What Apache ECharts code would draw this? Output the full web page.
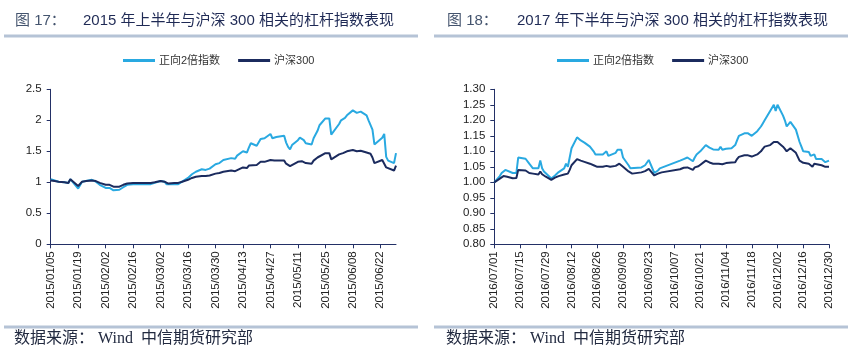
<!DOCTYPE html>
<html>
<head>
<meta charset="utf-8">
<script src="https://cdn.jsdelivr.net/npm/echarts@6/dist/echarts.min.js"></script>
<style>
html,body{margin:0;padding:0;background:#fff;}
#c{width:861px;height:358px;}
</style>
</head>
<body>
<div id="c"></div>
<script>
// ---------- Left chart (图 17) ----------
const leftDates = ['2015/01/05','2015/01/06','2015/01/07','2015/01/08','2015/01/09','2015/01/12','2015/01/13','2015/01/14','2015/01/15','2015/01/16','2015/01/19','2015/01/20','2015/01/21','2015/01/22','2015/01/23','2015/01/26','2015/01/27','2015/01/28','2015/01/29','2015/01/30','2015/02/02','2015/02/03','2015/02/04','2015/02/05','2015/02/06','2015/02/09','2015/02/10','2015/02/11','2015/02/12','2015/02/13','2015/02/16','2015/02/17','2015/02/25','2015/02/26','2015/02/27','2015/03/02','2015/03/03','2015/03/04','2015/03/05','2015/03/06','2015/03/09','2015/03/10','2015/03/11','2015/03/12','2015/03/13','2015/03/16','2015/03/17','2015/03/18','2015/03/19','2015/03/20','2015/03/23','2015/03/24','2015/03/25','2015/03/26','2015/03/27','2015/03/30','2015/03/31','2015/04/01','2015/04/02','2015/04/03','2015/04/07','2015/04/08','2015/04/09','2015/04/10','2015/04/13','2015/04/14','2015/04/15','2015/04/16','2015/04/17','2015/04/20','2015/04/21','2015/04/22','2015/04/23','2015/04/24','2015/04/27','2015/04/28','2015/04/29','2015/04/30','2015/05/04','2015/05/05','2015/05/06','2015/05/07','2015/05/08','2015/05/11','2015/05/12','2015/05/13','2015/05/14','2015/05/15','2015/05/18','2015/05/19','2015/05/20','2015/05/21','2015/05/22','2015/05/25','2015/05/26','2015/05/27','2015/05/28','2015/05/29','2015/06/01','2015/06/02','2015/06/03','2015/06/04','2015/06/05','2015/06/08','2015/06/09','2015/06/10','2015/06/11','2015/06/12','2015/06/15','2015/06/16','2015/06/17','2015/06/18','2015/06/19','2015/06/23','2015/06/24','2015/06/25','2015/06/26','2015/06/29','2015/06/30'];
const leftLev = [1.05,1.06,1.03,1.02,1.01,1.00,1.00,0.99,1.05,1.04,0.90,0.92,1.01,1.01,1.02,1.04,1.03,1.01,0.98,0.96,0.91,0.93,0.91,0.89,0.87,0.88,0.91,0.92,0.94,0.96,0.97,0.98,0.97,0.98,0.99,1.02,1.02,1.01,0.97,0.96,0.97,0.96,0.97,1.00,1.01,1.07,1.10,1.13,1.14,1.17,1.21,1.22,1.20,1.20,1.22,1.29,1.28,1.31,1.33,1.36,1.39,1.40,1.38,1.43,1.50,1.52,1.48,1.56,1.63,1.59,1.62,1.70,1.73,1.71,1.78,1.71,1.74,1.73,1.75,1.64,1.57,1.53,1.60,1.68,1.72,1.70,1.68,1.63,1.61,1.71,1.74,1.83,1.92,2.03,2.06,2.03,1.77,1.78,1.94,2.00,2.01,2.04,2.08,2.16,2.13,2.12,2.13,2.14,2.08,2.00,2.02,1.85,1.61,1.72,1.78,1.41,1.35,1.31,1.47];
const leftHs300 = [1.03,1.03,1.02,1.01,1.01,1.00,0.99,0.99,1.05,1.04,0.94,0.96,1.01,1.01,1.02,1.03,1.03,1.02,1.00,0.99,0.96,0.97,0.96,0.95,0.93,0.93,0.95,0.96,0.97,0.98,0.99,0.99,0.99,0.99,1.00,1.02,1.01,1.01,0.99,0.98,0.99,0.98,0.99,1.00,1.01,1.04,1.06,1.07,1.07,1.09,1.10,1.11,1.10,1.10,1.11,1.14,1.14,1.15,1.16,1.17,1.19,1.19,1.18,1.21,1.24,1.25,1.23,1.27,1.30,1.28,1.30,1.33,1.34,1.33,1.36,1.33,1.35,1.34,1.35,1.30,1.28,1.26,1.29,1.33,1.35,1.34,1.33,1.31,1.30,1.35,1.36,1.40,1.43,1.47,1.48,1.47,1.37,1.38,1.45,1.47,1.47,1.48,1.50,1.52,1.51,1.50,1.51,1.51,1.48,1.45,1.46,1.40,1.31,1.36,1.39,1.24,1.21,1.19,1.27];
const leftTicks = ['2015/01/05','2015/01/19','2015/02/02','2015/02/16','2015/03/02','2015/03/16','2015/03/30','2015/04/13','2015/04/27','2015/05/11','2015/05/25','2015/06/08','2015/06/22'];
const leftEnd = '2015/06/30';

// ---------- Right chart (图 18) ----------
const rightDates = ['2016/07/01','2016/07/04','2016/07/05','2016/07/06','2016/07/07','2016/07/08','2016/07/11','2016/07/12','2016/07/13','2016/07/14','2016/07/15','2016/07/18','2016/07/19','2016/07/20','2016/07/21','2016/07/22','2016/07/25','2016/07/26','2016/07/27','2016/07/28','2016/07/29','2016/08/01','2016/08/02','2016/08/03','2016/08/04','2016/08/05','2016/08/08','2016/08/09','2016/08/10','2016/08/11','2016/08/12','2016/08/15','2016/08/16','2016/08/17','2016/08/18','2016/08/19','2016/08/22','2016/08/23','2016/08/24','2016/08/25','2016/08/26','2016/08/29','2016/08/30','2016/08/31','2016/09/01','2016/09/02','2016/09/05','2016/09/06','2016/09/07','2016/09/08','2016/09/09','2016/09/12','2016/09/13','2016/09/14','2016/09/19','2016/09/20','2016/09/21','2016/09/22','2016/09/23','2016/09/26','2016/09/27','2016/09/28','2016/09/29','2016/09/30','2016/10/10','2016/10/11','2016/10/12','2016/10/13','2016/10/14','2016/10/17','2016/10/18','2016/10/19','2016/10/20','2016/10/21','2016/10/24','2016/10/25','2016/10/26','2016/10/27','2016/10/28','2016/10/31','2016/11/01','2016/11/02','2016/11/03','2016/11/04','2016/11/07','2016/11/08','2016/11/09','2016/11/10','2016/11/11','2016/11/14','2016/11/15','2016/11/16','2016/11/17','2016/11/18','2016/11/21','2016/11/22','2016/11/23','2016/11/24','2016/11/25','2016/11/28','2016/11/29','2016/11/30','2016/12/01','2016/12/02','2016/12/05','2016/12/06','2016/12/07','2016/12/08','2016/12/09','2016/12/12','2016/12/13','2016/12/14','2016/12/15','2016/12/16','2016/12/19','2016/12/20','2016/12/21','2016/12/22','2016/12/23','2016/12/26','2016/12/27','2016/12/28','2016/12/29','2016/12/30'];
const rightLev = [1.000,1.020,1.030,1.035,1.040,1.037,1.030,1.027,1.030,1.080,1.080,1.076,1.070,1.060,1.063,1.045,1.045,1.070,1.045,1.035,1.030,1.012,1.018,1.022,1.028,1.033,1.045,1.060,1.050,1.080,1.110,1.145,1.140,1.135,1.130,1.128,1.115,1.110,1.100,1.090,1.090,1.090,1.092,1.100,1.085,1.088,1.095,1.105,1.110,1.105,1.080,1.055,1.045,1.040,1.048,1.050,1.055,1.060,1.072,1.030,1.035,1.038,1.045,1.050,1.070,1.072,1.075,1.078,1.080,1.068,1.080,1.090,1.088,1.100,1.120,1.118,1.112,1.108,1.106,1.105,1.115,1.105,1.110,1.108,1.110,1.115,1.120,1.135,1.150,1.158,1.160,1.158,1.160,1.150,1.165,1.170,1.180,1.190,1.200,1.230,1.235,1.250,1.230,1.250,1.215,1.200,1.180,1.180,1.195,1.170,1.165,1.130,1.115,1.100,1.098,1.085,1.080,1.090,1.075,1.075,1.075,1.065,1.063,1.070];
const rightHs300 = [1.000,1.012,1.017,1.020,1.020,1.018,1.013,1.012,1.014,1.040,1.040,1.038,1.035,1.030,1.032,1.028,1.025,1.035,1.026,1.022,1.018,1.008,1.012,1.015,1.018,1.020,1.025,1.030,1.028,1.040,1.055,1.075,1.072,1.070,1.068,1.066,1.060,1.058,1.055,1.050,1.050,1.050,1.052,1.053,1.048,1.050,1.053,1.058,1.060,1.058,1.050,1.035,1.030,1.028,1.032,1.034,1.036,1.040,1.043,1.022,1.025,1.028,1.030,1.032,1.042,1.045,1.047,1.048,1.048,1.040,1.048,1.053,1.052,1.055,1.070,1.068,1.064,1.060,1.060,1.060,1.065,1.058,1.062,1.062,1.064,1.066,1.065,1.075,1.082,1.087,1.088,1.087,1.088,1.083,1.090,1.095,1.100,1.108,1.115,1.120,1.120,1.130,1.125,1.130,1.115,1.108,1.100,1.100,1.110,1.095,1.090,1.070,1.065,1.063,1.060,1.055,1.050,1.060,1.055,1.055,1.055,1.050,1.048,1.050];
const rightTicks = ['2016/07/01','2016/07/15','2016/07/29','2016/08/12','2016/08/26','2016/09/09','2016/09/23','2016/10/07','2016/10/21','2016/11/04','2016/11/18','2016/12/02','2016/12/16','2016/12/30'];
const rightEnd = '2016/12/30';

const seriesNames = ['正向2倍指数', '沪深300'];
const titlesNum = ['图 17：', '图 18：'];
const titlesMain = ['2015 年上半年与沪深 300 相关的杠杆指数表现', '2017 年下半年与沪深 300 相关的杠杆指数表现'];
const sourceText = '数据来源： Wind  中信期货研究部';

// ---------- helpers ----------
function parseD(s){ const p = s.split('/'); return Date.UTC(+p[0], +p[1]-1, +p[2]); }
function offsetOf(base, s){ return Math.round((parseD(s) - parseD(base)) / 86400000); }
function dateOf(base, off){
  const d = new Date(parseD(base) + off * 86400000);
  const mm = String(d.getUTCMonth()+1).padStart(2,'0');
  const dd = String(d.getUTCDate()).padStart(2,'0');
  return d.getUTCFullYear() + '/' + mm + '/' + dd;
}
function pairs(dates, vals){ const b = dates[0]; return dates.map((d,i)=>[offsetOf(b,d), vals[i]]); }

const LIGHT = '#29a9e1';
const DARK = '#1b2b5e';
const AXIS = '#233066';
const LABEL = '#222222';

const leftBase = leftDates[0], rightBase = rightDates[0];
const leftTickVals = leftTicks.map(d=>offsetOf(leftBase,d));
const rightTickVals = rightTicks.map(d=>offsetOf(rightBase,d));

function xAxisCfg(gridIndex, base, max, tickVals){
  return {
    type:'value', gridIndex, min:0, max, interval:14,
    axisLine:{show:true, lineStyle:{color:AXIS, width:1}},
    axisTick:{show:true, inside:false, length:4, lineStyle:{color:AXIS}, customValues:tickVals},
    splitLine:{show:false},
    axisLabel:{show:true, rotate:90, margin:7, color:LABEL, fontSize:11.5,
      fontFamily:'Liberation Sans, Arial, sans-serif', customValues:tickVals,
      formatter:(v)=>dateOf(base, v)}
  };
}
function yAxisCfg(gridIndex, min, max, interval, dec){
  return {
    type:'value', gridIndex, min, max, interval,
    axisLine:{show:true, lineStyle:{color:AXIS, width:1}},
    axisTick:{show:true, inside:false, length:4, lineStyle:{color:AXIS}},
    splitLine:{show:false},
    axisLabel:{color:LABEL, fontSize:11.5, margin:9, fontFamily:'Liberation Sans, Arial, sans-serif',
      formatter:(v)=> dec ? v.toFixed(dec) : String(+v.toFixed(2))}
  };
}
function lineSeries(name, xi, data, color){
  return {name, type:'line', xAxisIndex:xi, yAxisIndex:xi, data, showSymbol:false, symbol:'none',
    lineStyle:{color, width:2}, itemStyle:{color}, animation:false};
}
function legendCfg(left){
  return {left, top:50, itemWidth:32, itemHeight:3, itemGap:18, icon:'rect',
    textStyle:{fontSize:11, color:'#333', fontFamily:'Liberation Sans, Noto Sans CJK SC, sans-serif', padding:[0,0,0,-1]},
    data:seriesNames};
}

const titleFont = 'Liberation Sans, Noto Sans CJK SC, sans-serif';
const graphics = [];
[[0, 15, 83], [430, 447, 517]].forEach(([ox, nx, mx], i)=>{
  graphics.push({type:'text', left:nx, top:13, style:{text:titlesNum[i], font:'15px '+titleFont, fill:'#44546e'}});
  graphics.push({type:'text', left:mx, top:13, style:{text:titlesMain[i], font:'15px '+titleFont, fill:'#1f2a55'}});
  graphics.push({type:'rect', shape:{x:ox+4, y:34.5, width:414, height:3}, style:{fill:'#b5c3d6'}});
  graphics.push({type:'rect', shape:{x:ox+4, y:325.5, width:414, height:3}, style:{fill:'#b5c3d6'}});
  graphics.push({type:'text', left:nx - 1, top:331, style:{text:sourceText, font:'16px Liberation Serif, Noto Sans CJK SC, serif', fill:'#222a40'}});
});

const chart = echarts.init(document.getElementById('c'), null, {renderer:'canvas'});
chart.setOption({
  animation:false,
  backgroundColor:'#fff',
  grid:[
    {left:50.7, top:89.3, width:345.3, height:155, containLabel:false},
    {left:494.3, top:89.3, width:334.7, height:155, containLabel:false}
  ],
  legend:[legendCfg(118), legendCfg(552)],
  xAxis:[
    xAxisCfg(0, leftBase, offsetOf(leftBase,leftEnd), leftTickVals),
    xAxisCfg(1, rightBase, offsetOf(rightBase,rightEnd), rightTickVals)
  ],
  yAxis:[
    yAxisCfg(0, 0, 2.5, 0.5, 0),
    yAxisCfg(1, 0.8, 1.3, 0.05, 2)
  ],
  series:[
    lineSeries(seriesNames[0], 0, pairs(leftDates, leftLev), LIGHT),
    lineSeries(seriesNames[1], 0, pairs(leftDates, leftHs300), DARK),
    lineSeries(seriesNames[0], 1, pairs(rightDates, rightLev), LIGHT),
    lineSeries(seriesNames[1], 1, pairs(rightDates, rightHs300), DARK)
  ],
  graphic:graphics
});
</script>
</body>
</html>
